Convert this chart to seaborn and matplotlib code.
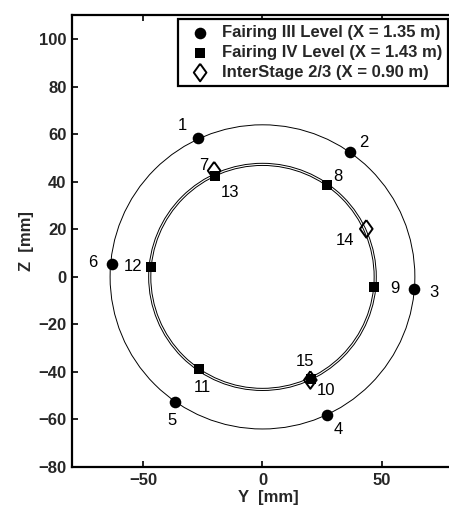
import numpy as np
import pandas as pd
import matplotlib
matplotlib.use("Agg")
import matplotlib.pyplot as plt
import seaborn as sns

# ---- data ----
fair3_y = [-27.0, 36.6, 63.6, 27.0, -36.7, -63.3]
fair3_z = [58.3, 52.4, -5.3, -58.0, -52.5, 5.5]
fair3_id = ["1", "2", "3", "4", "5", "6"]

fair4_y = [27.1, 46.7, 20.3, -26.8, -46.9, -20.0]
fair4_z = [38.8, -4.1, -42.9, -38.7, 4.3, 42.3]
fair4_id = ["8", "9", "10", "11", "12", "13"]

inter_y = [-20.3, 43.6, 20.1]
inter_z = [44.7, 20.2, -43.4]
inter_id = ["7", "14", "15"]

circle_radii = [64.0, 46.9, 47.8]

series_names = ["Fairing III Level (X = 1.35 m)",
                "Fairing IV Level (X = 1.43 m)",
                "InterStage 2/3 (X = 0.90 m)"]

# label text placement in data units
label_pos = {
    "1": (-33.6, 63.7), "2": (42.6, 56.6), "3": (71.9, -6.5), "4": (31.7, -64.3),
    "5": (-38.2, -60.5), "6": (-71.1, 6.1), "7": (-24.5, 46.8), "8": (31.7, 42.3),
    "9": (55.5, -4.8), "10": (26.8, -47.9), "11": (-25.3, -46.5), "12": (-54.3, 4.3),
    "13": (-13.7, 35.6), "14": (34.8, 15.3), "15": (18.0, -35.5),
}

xticks = [-50, 0, 50]
yticks = [-80, -60, -40, -20, 0, 20, 40, 60, 80, 100]

sns.set_theme(style="white")
plt.rcParams['font.family'] = ['Liberation Sans', 'DejaVu Sans']

fig = plt.figure(figsize=(4.49, 5.11), dpi=100)
# x range -80..85 -> right spine falls outside the picture, as in the reference
ax = fig.add_axes([72/449, 44/511, (165*2.381)/449, 451.5/511])

for r in circle_radii:
    ax.add_patch(plt.Circle((0, 0), r, fill=False, color="black", lw=0.7, zorder=1))

df3 = pd.DataFrame({"Y": fair3_y, "Z": fair3_z})
df4 = pd.DataFrame({"Y": fair4_y, "Z": fair4_z})
dfi = pd.DataFrame({"Y": inter_y, "Z": inter_z})

diamond = [(0, 1), (0.72, 0), (0, -1), (-0.72, 0), (0, 1)]

sns.scatterplot(data=dfi, x="Y", y="Z", ax=ax, marker=diamond, s=160,
                facecolors="none", edgecolor="black", linewidth=1.4,
                label=series_names[2], zorder=3)
sns.scatterplot(data=df3, x="Y", y="Z", ax=ax, marker="o", s=70,
                color="black", edgecolor="black", linewidth=0,
                label=series_names[0], zorder=4)
sns.scatterplot(data=df4, x="Y", y="Z", ax=ax, marker="s", s=46,
                color="black", edgecolor="black", linewidth=0,
                label=series_names[1], zorder=4)

for k, (tx, tz) in label_pos.items():
    ax.text(tx, tz, k, fontsize=12, ha="center", va="center", color="black")

ax.set_xlim(-80, 85)
ax.set_ylim(-80, 110)
ax.set_xticks(xticks)
ax.set_yticks(yticks)
ax.tick_params(direction="in", length=4, width=1.2, top=True, right=True,
               bottom=True, left=True, labelsize=12, pad=4, color="black")
for lab in ax.get_xticklabels() + ax.get_yticklabels():
    lab.set_fontweight("bold")
for sp in ax.spines.values():
    sp.set_linewidth(1.6)
    sp.set_color("black")

ax.set_xlabel("Y  [mm]", fontsize=12, fontweight="bold", labelpad=2)
ax.set_ylabel("Z  [mm]", fontsize=12, fontweight="bold", labelpad=3)

handles, labels = ax.get_legend_handles_labels()
order = [labels.index(n) for n in series_names]
axw = 165*2.381
leg = ax.legend([handles[i] for i in order], [labels[i] for i in order],
                loc="upper right", bbox_to_anchor=((448-72)/axw, 0.992), borderaxespad=0,
                fancybox=False, framealpha=1, edgecolor="black",
                prop={"weight": "bold", "size": 12}, handletextpad=0.35,
                borderpad=0.35, labelspacing=0.3, handlelength=1.9)
leg.get_frame().set_linewidth(1.6)

fig.savefig("out.png", dpi=100)
